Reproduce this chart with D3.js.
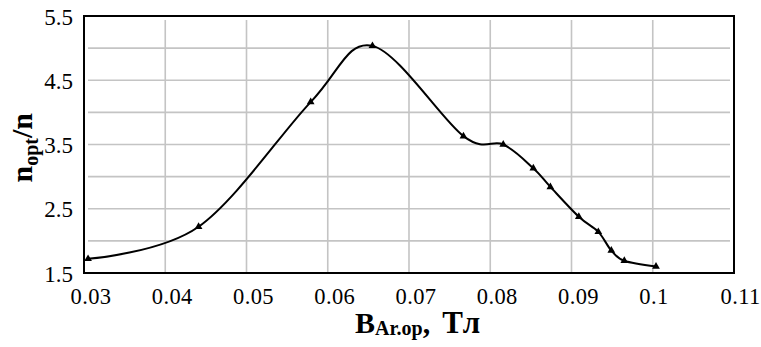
<!DOCTYPE html>
<html>
<head>
<meta charset="utf-8">
<script src="https://cdn.jsdelivr.net/npm/d3@7"></script>
<style>
  html, body { margin: 0; padding: 0; background: #fff; }
  svg { display: block; }
  svg text { font-family: "Liberation Serif", "Times New Roman", serif; fill: #000; }
</style>
</head>
<body>
<svg id="chart" width="761" height="347"></svg>
<script>
// Magnetic induction B (T) and relative optimal speed n_opt/n
const bValues = [0.0305, 0.0441, 0.0579, 0.0655, 0.0767, 0.0816, 0.0853, 0.0874, 0.0909, 0.0933, 0.0949, 0.0965, 0.1004];
const ratioValues = [1.72, 2.22, 4.16, 5.035, 3.63, 3.50, 3.13, 2.84, 2.375, 2.14, 1.85, 1.69, 1.60];

const xTicks = [0.03, 0.04, 0.05, 0.06, 0.07, 0.08, 0.09, 0.1, 0.11];
const xTickLabels = ["0.03", "0.04", "0.05", "0.06", "0.07", "0.08", "0.09", "0.1", "0.11"];
const yGrid = [1.5, 2, 2.5, 3, 3.5, 4, 4.5, 5, 5.5];
const yTicks = [1.5, 2.5, 3.5, 4.5, 5.5];
const yTickLabels = ["1.5", "2.5", "3.5", "4.5", "5.5"];

const SERIF = "Liberation Serif";

const svg = d3.select("#chart");
const W = 761, H = 347;
const margin = { top: 16, right: 27, bottom: 74, left: 84 };
const iw = W - margin.left - margin.right;
const ih = H - margin.top - margin.bottom;

const x = d3.scaleLinear().domain([0.03, 0.11]).range([0, iw]);
const y = d3.scaleLinear().domain([1.5, 5.5]).range([ih, 0]);

const g = svg.append("g").attr("transform", `translate(${margin.left},${margin.top})`);

// gridlines
g.append("g")
  .selectAll("line")
  .data(xTicks.slice(1, -1))
  .join("line")
  .attr("x1", d => x(d)).attr("x2", d => x(d))
  .attr("y1", 4).attr("y2", ih)
  .attr("stroke", "#c4c4c4").attr("stroke-width", 1.6);

g.append("g")
  .selectAll("line")
  .data(yGrid.slice(1, -1))
  .join("line")
  .attr("x1", 4).attr("x2", iw - 4)
  .attr("y1", d => y(d)).attr("y2", d => y(d))
  .attr("stroke", "#c4c4c4").attr("stroke-width", 1.6);

// plot frame
g.append("rect")
  .attr("x", 0).attr("y", 0).attr("width", iw).attr("height", ih)
  .attr("fill", "none").attr("stroke", "#000").attr("stroke-width", 2);

// x tick labels
const xAxis = d3.axisBottom(x).tickValues(xTicks)
  .tickFormat((d, i) => xTickLabels[i]).tickSize(0).tickPadding(0);
const xg = g.append("g").attr("transform", `translate(0,${ih})`).call(xAxis)
  .attr("font-family", SERIF).attr("font-size", 22.5);
xg.select(".domain").remove();
xg.selectAll("text")
  .attr("text-anchor", "start")
  .attr("dx", -14)
  .attr("y", 31).attr("dy", 0)
  .attr("font-family", SERIF)
  .style("font-size", "22.5px")
  .style("letter-spacing", "0.4px")
  .attr("fill", "#000");

// y tick labels
const yAxis = d3.axisLeft(y).tickValues(yTicks)
  .tickFormat((d, i) => yTickLabels[i]).tickSize(0).tickPadding(11);
const yg = g.append("g").call(yAxis)
  .attr("font-family", SERIF).attr("font-size", 23);
yg.select(".domain").remove();
yg.selectAll("text")
  .attr("dy", 0).attr("y", 8)
  .attr("font-family", SERIF)
  .style("font-size", "23px")
  .attr("fill", "#000");

// smoothed curve
const pts = bValues.map((b, i) => [b, ratioValues[i]]);
const line = d3.line()
  .x(d => x(d[0])).y(d => y(d[1]))
  .curve(d3.curveCatmullRom.alpha(0));
g.append("path")
  .datum(pts)
  .attr("d", line)
  .attr("fill", "none")
  .attr("stroke", "#000")
  .attr("stroke-width", 2);

// triangle markers
g.append("g")
  .selectAll("path")
  .data(pts)
  .join("path")
  .attr("d", d3.symbol(d3.symbolTriangle, 26))
  .attr("transform", d => `translate(${x(d[0])},${y(d[1])})`)
  .attr("fill", "#000");

// axis titles
const xt = svg.append("text")
  .attr("x", 355).attr("y", 333)
  .attr("text-anchor", "start")
  .attr("font-family", SERIF)
  .style("font-weight", "bold");
xt.append("tspan").style("font-size", "30px").text("B");
xt.append("tspan").style("font-size", "20px").attr("dy", 2).text("Ar.op");
xt.append("tspan").style("font-size", "30px").attr("dy", -2).text(",");
xt.append("tspan").style("font-size", "31px").attr("dx", 12).style("letter-spacing", "1.5px").text("Тл");

const yt = svg.append("text")
  .attr("transform", `translate(32,${margin.top + y(3.45)}) rotate(-90)`)
  .attr("text-anchor", "middle")
  .attr("font-family", SERIF)
  .style("font-weight", "bold");
yt.append("tspan").style("font-size", "30px").text("n");
yt.append("tspan").style("font-size", "20px").attr("dy", 6).text("opt");
yt.append("tspan").style("font-size", "30px").attr("dy", -6).text("/n");
</script>
</body>
</html>
